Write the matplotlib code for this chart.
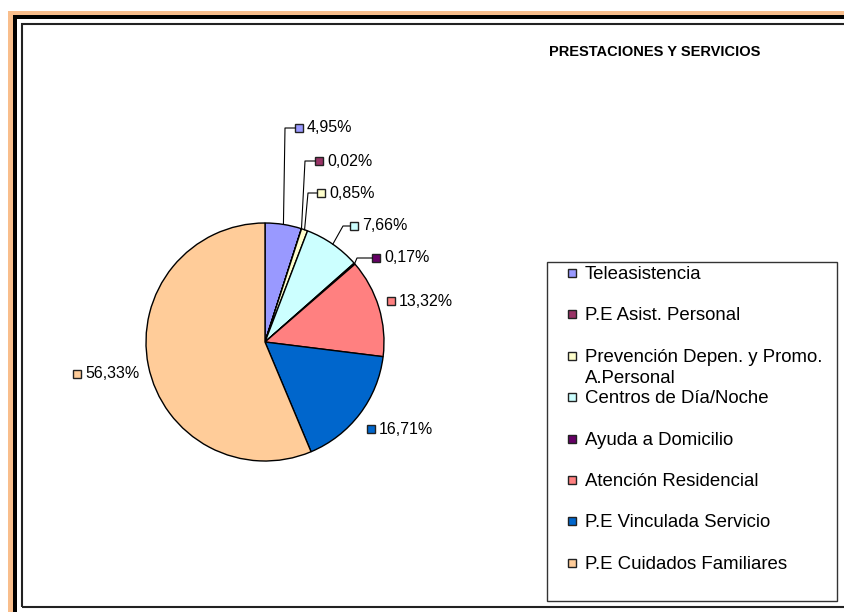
import numpy as np
import matplotlib
matplotlib.use('Agg')
import matplotlib.pyplot as plt
from matplotlib.patches import Rectangle

plt.rcParams['font.family'] = ['Liberation Sans', 'DejaVu Sans']

## ------------------------------- DATA ---------------------------------------##
categories = ['Teleasistencia', 'P.E Asist. Personal',
              'Prevención Depen. y Promo.\nA.Personal', 'Centros de Día/Noche',
              'Ayuda a Domicilio', 'Atención Residencial',
              'P.E Vinculada Servicio', 'P.E Cuidados Familiares']
shares = [4.95, 0.02, 0.85, 7.66, 0.17, 13.32, 16.71, 56.33]
colors = ['#9999FF', '#993366', '#FFFFCC', '#CCFFFF',
          '#660066', '#FF8080', '#0066CC', '#FFCC99']
title = 'PRESTACIONES Y SERVICIOS'

## ------------------------------ LAYOUT --------------------------------------##
W, H = 845, 612
def py(y):  ## pixel row (from top) -> data y
    return H - y

center = (265, py(342))
radius = 119

## data label marker positions (px) and leader elbows (None = no leader)
label_pos = [(299, 128), (319, 161), (321, 193), (354, 226),
             (376, 258), (391, 301), (371, 429), (77, 374)]
elbows = [(285, 128), (305, 161), (308, 193), (343, 226),
          (357, 258), None, None, None]

fig = plt.figure(figsize=(W / 100, H / 100), dpi=100)
ax = fig.add_axes([0, 0, 1, 1])

## ------------------------------ FRAME ---------------------------------------##
ax.add_patch(Rectangle((8, 0), 5, py(11), color='#F9BE8C', lw=0))
ax.add_patch(Rectangle((8, py(15)), W, 4, color='#F9BE8C', lw=0))
ax.add_patch(Rectangle((13, 0), 4, py(15), color='black', lw=0))
ax.add_patch(Rectangle((13, py(19)), W, 4, color='black', lw=0))
ax.add_patch(Rectangle((22, py(607)), W, 583, fill=False, ec='#222222', lw=1.5))

## ------------------------------- PIE ----------------------------------------##
wedges, _ = ax.pie(shares, colors=colors, startangle=90, counterclock=False,
                   center=center, radius=radius, frame=True,
                   wedgeprops=dict(edgecolor='black', linewidth=1))

for w, v, c, (lx, ly), el in zip(wedges, shares, colors, label_pos, elbows):
    txt = f'{v:.2f}'.replace('.', ',') + '%'
    ax.plot(lx, py(ly), 's', ms=6, mfc=c, mec='#222222', mew=1)
    ax.text(lx + 8, py(ly), txt, fontsize=11.5, va='center', ha='left')
    if el is not None:
        mid = np.deg2rad((w.theta1 + w.theta2) / 2)
        ex = center[0] + radius * np.cos(mid)
        ey = center[1] + radius * np.sin(mid)
        ax.plot([lx - 4, el[0], ex], [py(ly), py(el[1]), ey], color='black', lw=0.8)

## ------------------------------ LEGEND --------------------------------------##
ax.add_patch(Rectangle((547, py(601)), 290, 339, fill=False, ec='#333333', lw=1))
for i, (name, c) in enumerate(zip(categories, colors)):
    yy = 273 + i * 41.4
    ax.plot(572.5, py(yy), 's', ms=6, mfc=c, mec='#222222', mew=1)
    ax.text(585, py(yy - 7), name, fontsize=13.4, va='top', ha='left', linespacing=1.3)

ax.text(655, py(52), title, fontsize=10.5, fontweight='bold', ha='center', va='center')

ax.set_xlim(0, W)
ax.set_ylim(0, H)
ax.set_aspect('auto')
ax.axis('off')
fig.savefig('out.png', dpi=100)
